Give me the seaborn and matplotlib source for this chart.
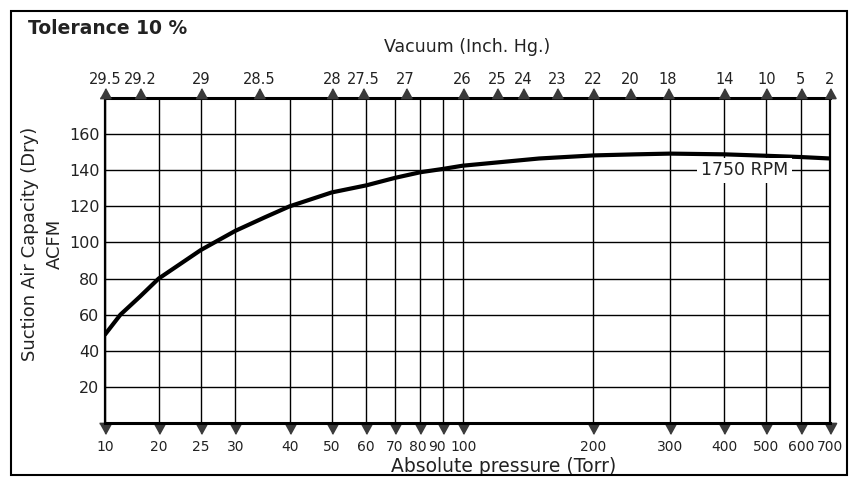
import numpy as np
import matplotlib
matplotlib.use("Agg")
import matplotlib.pyplot as plt
import matplotlib.transforms as mtransforms
import seaborn as sns
from matplotlib.patches import Rectangle

sns.set_theme(style="white")
plt.rcParams['font.family'] = ['DejaVu Sans']

# curve: absolute pressure (Torr) -> capacity (ACFM)
torr = [10, 12.2, 15.7, 20, 25, 30, 35, 40, 50, 60, 70, 80, 90, 100,
        150, 200, 250, 300, 400, 500, 600, 700]
acfm = [49, 60, 70, 80, 95.8, 106.4, 113.8, 120, 127.7, 131.6, 135.8, 138.9,
        140.7, 142.5, 146.5, 148.2, 148.8, 149.2, 148.8, 148, 147.3, 146.5]

torr_ticks = [10, 20, 25, 30, 40, 50, 60, 70, 80, 90, 100, 200, 300, 400, 500, 600, 700]
acfm_ticks = [20, 40, 60, 80, 100, 120, 140, 160]

# vacuum scale on top, placed at the pressure it sits over on the chart
vac_labels = ["29.5", "29.2", "29", "28.5", "28", "27.5", "27", "26", "25",
              "24", "23", "22", "20", "18", "14", "10", "5", "2"]
vac_torr = [10, 15.7, 25, 34, 50, 59, 74, 100, 120, 138, 165, 200, 243, 296,
            400, 500, 600, 700]

# log axis, with the 10-20 Torr decade squeezed like the original
BREAK = 20.0
SQUEEZE = 0.41


def fwd(p):
    p = np.clip(np.asarray(p, dtype=float), 1e-6, None)
    lb = np.log10(BREAK)
    lp = np.log10(p)
    return np.where(p >= BREAK, lp, lb - SQUEEZE * (lb - lp))


def inv(u):
    u = np.asarray(u, dtype=float)
    lb = np.log10(BREAK)
    return np.where(u >= lb, 10 ** np.minimum(u, 10), 10 ** (lb - (lb - u) / SQUEEZE))


fig = plt.figure(figsize=(8.58, 4.79), dpi=100)
ax = fig.add_axes([0.1224, 0.1169, 0.845, 0.6785])

ax.set_xscale('function', functions=(fwd, inv))
ax.set_xlim(10, 700)
ax.set_ylim(0, 180)

sns.lineplot(x=torr, y=acfm, ax=ax, color='black', linewidth=3, zorder=3)

ax.set_xticks(torr_ticks, labels=[str(t) for t in torr_ticks])
ax.xaxis.set_minor_locator(matplotlib.ticker.NullLocator())
ax.set_yticks(acfm_ticks)
ax.grid(True, color='black', linewidth=1.0)

ax.tick_params(axis='x', bottom=True, length=0, pad=12, labelsize=10, colors='#222222')
ax.tick_params(axis='y', left=False, length=0, pad=4, labelsize=11.5, colors='#222222')

down = [(-0.55, 0), (0.55, 0), (0, -1)]
for t in ax.xaxis.get_major_ticks():
    t.tick1line.set_marker(down)
    t.tick1line.set_markersize(15.5)
    t.tick1line.set_markerfacecolor('#3a3a3a')
    t.tick1line.set_markeredgecolor('#3a3a3a')

# crowded labels near 100 Torr are nudged apart, as on the original
nudge = {"70": -1, "80": -3, "90": -6, "100": 1}
for lab in ax.get_xticklabels():
    if lab.get_text() in nudge:
        off = mtransforms.ScaledTranslation(nudge[lab.get_text()] / 100, 0, fig.dpi_scale_trans)
        lab.set_transform(lab.get_transform() + off)

for side in ['top', 'bottom']:
    ax.spines[side].set_linewidth(2.2)
for side in ['left', 'right']:
    ax.spines[side].set_linewidth(1.6)
for s in ax.spines.values():
    s.set_color('black')

ax.set_ylabel("Suction Air Capacity (Dry)\nACFM", fontsize=13, linespacing=1.45,
              color='#222222')
ax.yaxis.set_label_coords(-0.057, 0.55)
ax.set_xlabel("Absolute pressure (Torr)", fontsize=13.5, color='#222222')
ax.xaxis.set_label_coords(0.55, -0.105)

ax.text(445, 140, "1750 RPM", ha='center', va='center', fontsize=12.5, color='#222222',
        bbox=dict(facecolor='white', edgecolor='none', pad=2.5), zorder=4)

# top vacuum axis
ax2 = ax.twiny()
ax2.set_xscale('function', functions=(fwd, inv))
ax2.set_xlim(ax.get_xlim())
ax2.set_xticks(vac_torr, labels=vac_labels)
ax2.xaxis.set_minor_locator(matplotlib.ticker.NullLocator())
ax2.tick_params(axis='x', top=True, length=0, pad=8, labelsize=10.5, colors='#222222')
ax2.grid(False)
for s in ax2.spines.values():
    s.set_visible(False)
up = [(-0.55, 0), (0.55, 0), (0, 1)]
for t in ax2.xaxis.get_major_ticks():
    t.tick2line.set_marker(up)
    t.tick2line.set_markersize(14)
    t.tick2line.set_markerfacecolor('#3a3a3a')
    t.tick2line.set_markeredgecolor('#3a3a3a')
ax2.set_xlabel("Vacuum (Inch. Hg.)", fontsize=12.5, color='#222222', labelpad=14)

fig.text(28 / 858, 1 - 29 / 479, "Tolerance 10 %", fontsize=13.5, fontweight='bold',
         va='center', color='#222222')

fig.patches.append(Rectangle((0.013, 0.009), 0.974, 0.968, transform=fig.transFigure,
                             fill=False, edgecolor='black', linewidth=1.5))

fig.savefig("out.png", dpi=100)
